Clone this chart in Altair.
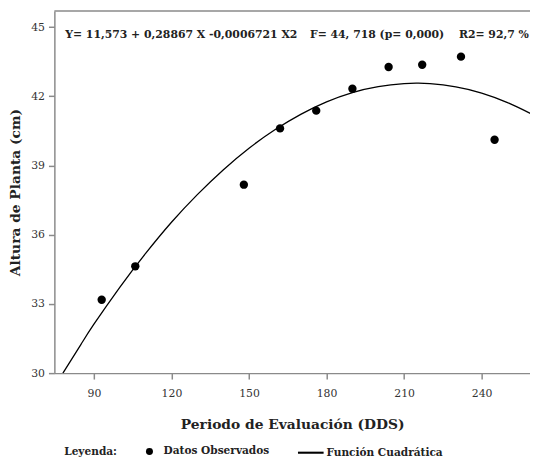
import altair as alt
import pandas as pd

dds_obs = [93, 106, 148, 162, 176, 190, 204, 217, 232, 245]
altura_obs = [33.18, 34.63, 38.17, 40.61, 41.38, 42.33, 43.27, 43.37, 43.72, 40.12]

# Fitted quadratic curve
dds_curve = [78, 85, 90, 100, 110, 120, 130, 140, 150, 160, 170, 180, 190, 200, 210, 215, 220, 230, 240, 250, 259]
altura_curve = [30.0, 31.25, 32.12, 33.72, 35.19, 36.54, 37.74, 38.81, 39.75, 40.55, 41.22,
                41.76, 42.16, 42.42, 42.55, 42.57, 42.55, 42.41, 42.14, 41.73, 41.25]

x_ticks = [90, 120, 150, 180, 210, 240]
y_ticks = [30, 33, 36, 39, 42, 45]

series = ["Datos Observados", "Función Cuadrática"]
eq_text = "Y= 11,573 + 0,28867 X -0,0006721 X2"
f_text = "F= 44, 718 (p= 0,000)"
r2_text = "R2= 92,7 %"

df_obs = pd.DataFrame({"dds": dds_obs, "altura": altura_obs, "serie": series[0]})
df_curve = pd.DataFrame({"dds": dds_curve, "altura": altura_curve, "serie": series[1]})

FONT = "DejaVu Serif"
GRAY = "#8a8a8a"
W, H = 482, 367

xscale = alt.Scale(domain=[74.7, 258.7], nice=False, zero=False)
yscale = alt.Scale(domain=[30, 45.7], nice=False, zero=False)

x_axis = alt.Axis(values=x_ticks, title="Periodo de Evaluación (DDS)", orient="bottom",
                  labelPadding=9, titlePadding=19)
y_axis = alt.Axis(values=y_ticks, title="Altura de Planta (cm)", labelPadding=4, titlePadding=8)

legend = alt.Legend(
    title="Leyenda:", orient="none", legendX=10, legendY=441, direction="horizontal",
    titleOrient="left", titleFont=FONT, titleFontSize=10.7, titleFontWeight="bold",
    titleColor="#222", titlePadding=27,
    labelFont=FONT, labelFontSize=10.7, labelFontWeight="bold", labelColor="#222",
    labelOffset=9, columnPadding=24,
    symbolSize=50, symbolFillColor="black", symbolStrokeColor="black", symbolStrokeWidth=2,
)

points = alt.Chart(df_obs).mark_point(filled=True, size=72, color="black", opacity=1).encode(
    x=alt.X("dds:Q", scale=xscale, axis=x_axis),
    y=alt.Y("altura:Q", scale=yscale, axis=y_axis),
    shape=alt.Shape("serie:N",
                    scale=alt.Scale(domain=series,
                                    range=["circle", "M-4.1,-0.3H3.25V0.3H-4.1Z"]),
                    legend=legend),
)

curve = alt.Chart(df_curve).mark_line(color="black", strokeWidth=1.3, clip=True,
                                      interpolate="natural").encode(
    x=alt.X("dds:Q", scale=xscale, axis=x_axis),
    y=alt.Y("altura:Q", scale=yscale, axis=y_axis),
)

# top frame line of the plot area
frame_top = alt.Chart(pd.DataFrame({"k": [0]})).mark_rule(color=GRAY, strokeWidth=1.5).encode(
    x=alt.value(0), x2=alt.value(W), y=alt.value(0)
)

def label(txt, px):
    return alt.Chart(pd.DataFrame({"t": [txt]})).mark_text(
        align="left", baseline="middle", font=FONT, fontSize=11, fontWeight="bold", color="#222"
    ).encode(text="t:N", x=alt.value(px), y=alt.value(24))

chart = alt.layer(
    frame_top, curve, points, label(eq_text, 11), label(f_text, 259), label(r2_text, 410)
).properties(
    width=W, height=H,
    padding={"left": 47, "top": 0, "right": 0, "bottom": 84},
    autosize=alt.AutoSizeParams(type="none"),
).configure_view(stroke=None).configure_axis(
    grid=False, domainColor=GRAY, domainWidth=1.5, tickColor=GRAY, tickWidth=1.5, tickSize=6,
    labelFont=FONT, labelFontSize=11, labelColor="#333",
    titleFont=FONT, titleFontSize=14, titleFontWeight="bold", titleColor="#222",
)

chart.save("out.html", embed_options={"renderer": "svg", "actions": False})
